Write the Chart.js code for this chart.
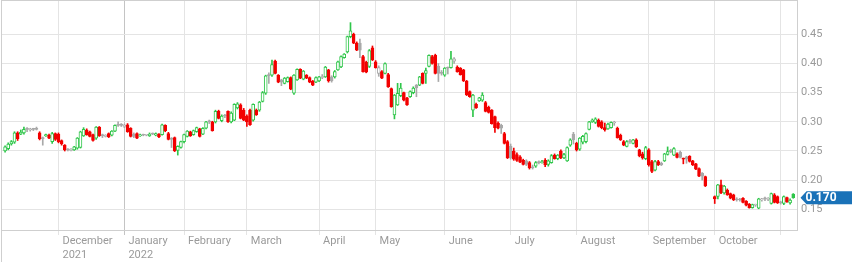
<!DOCTYPE html>
<html>
<head>
<meta charset="utf-8">
<script src="https://cdn.jsdelivr.net/npm/chart.js@4.4.1/dist/chart.umd.min.js"></script>
<style>
html,body{margin:0;padding:0;background:#fff;}
#wrap{width:852px;height:262px;}
</style>
</head>
<body>
<div id="wrap"><canvas id="mychart" width="852" height="262"></canvas></div>
<script>
// one candle per trading day, 8 Nov 2021 .. 7 Nov 2022 (null = no trading)
var open=[
  .250,.254,.262,.265,.281,.279,.281,.288,.286,.288,.289,.281,.273,.276,.277,.266,.280,
  .279,.268,.260,.253,.251,.252,.255,.256,.276,.286,.283,.278,.272,.291,.278,.275,.280,.277,.284,.295,.296,
  .292,.295,.289,.279,.280,.276,.278,.277,.276,.280,.277,.279,.278,.294,.280,.272,.273,.251,.256,
  .266,.275,.283,.278,.283,.288,.279,.289,.301,.300,.300,.318,.302,.311,.318,.300,.303,.324,.329,.320,
  .310,.320,.303,.320,.320,.335,.349,.381,.380,.404,.380,.372,.366,.369,.376,.349,.372,.390,.373,.380,.376,.370,.368,
  .370,.376,.377,.389,.377,.377,.389,.394,.410,.420,.446,.450,.435,.435,.412,.402,.395,.427,
  .403,.383,.386,.383,.381,.357,.312,.329,.345,.350,.341,.343,.350,.363,.363,.383,.383,.395,.412,.414,.395,.385,
  .380,.393,.393,.404,.394,.392,.389,.370,.352,.320,.330,.336,.337,.333,.325,.320,.309,.298,.294,.280,.266,
  .258,.250,.244,.240,.234,.233,.230,.223,.224,.231,.230,.234,.227,.230,.243,.237,.250,.238,.233,.260,.279,
  .263,.253,.265,.266,.287,.300,.299,.303,.300,.290,.288,.290,.298,.289,.277,.266,.258,.268,.263,.269,.252,.245,.237,
  .252,.232,.217,.232,.229,.233,.244,.251,.243,.245,.248,.237,.240,.241,.233,.228,.220,.212,.206,null,null,
  .172,.172,.192,.178,.183,.177,.175,.168,.167,.169,.164,.159,.153,.157,.152,.166,.169,.167,.160,.175,.172,
  .162,.160,.170,.161,.176
];
var high=[
  .259,.264,.268,.283,.283,.286,.291,.290,.289,.289,.291,.283,.274,.279,.279,.282,.281,
  .281,.269,.261,.254,.254,.258,.273,.284,.290,.288,.284,.279,.292,.292,.279,.278,.281,.285,.295,.300,.297,
  .296,.297,.290,.281,.281,.279,.279,.278,.281,.281,.281,.280,.296,.295,.282,.273,.274,.259,.267,
  .279,.285,.284,.286,.291,.289,.290,.301,.303,.301,.320,.320,.312,.313,.319,.317,.331,.333,.331,.323,
  .312,.322,.331,.322,.335,.352,.380,.384,.406,.406,.381,.373,.376,.377,.377,.381,.391,.391,.388,.381,.377,.371,.377,
  .378,.381,.395,.390,.379,.388,.404,.413,.417,.447,.470,.452,.437,.442,.414,.404,.424,.430,
  .405,.396,.388,.401,.383,.358,.347,.366,.366,.351,.342,.353,.360,.364,.378,.384,.392,.415,.414,.416,.400,.388,
  .393,.394,.421,.410,.396,.393,.390,.371,.353,.347,.332,.342,.350,.335,.327,.321,.310,.300,.296,.282,.268,
  .262,.255,.247,.242,.236,.235,.232,.226,.232,.233,.234,.237,.235,.244,.245,.244,.252,.246,.257,.271,.282,
  .265,.273,.277,.281,.301,.305,.307,.305,.302,.298,.298,.300,.301,.291,.279,.268,.268,.270,.270,.271,.253,.248,.258,
  .254,.234,.234,.234,.231,.246,.257,.253,.256,.247,.250,.238,.241,.242,.234,.229,.221,.213,.207,null,null,
  .173,.193,.200,.191,.185,.178,.176,.170,.169,.170,.165,.160,.159,.159,.169,.169,.171,.170,.178,.177,.173,
  .164,.173,.171,.168,.177
];
var low=[
  .248,.252,.260,.263,.268,.278,.279,.283,.284,.285,.286,.269,.260,.275,.271,.263,.268,
  .264,.260,.250,.250,.250,.251,.253,.255,.275,.277,.274,.267,.270,.275,.273,.274,.273,.276,.283,.292,.292,
  .290,.282,.274,.273,.271,.275,.276,.276,.275,.278,.276,.273,.277,.283,.269,.256,.249,.243,.255,
  .264,.274,.275,.277,.282,.274,.278,.288,.297,.284,.298,.305,.300,.307,.299,.298,.302,.322,.305,.302,
  .292,.294,.301,.311,.318,.334,.347,.366,.378,.382,.367,.362,.365,.368,.355,.347,.371,.374,.372,.374,.367,.362,.367,
  .369,.374,.376,.368,.368,.375,.388,.393,.409,.418,.444,.434,.422,.410,.385,.384,.393,.405,
  .392,.378,.374,.382,.359,.325,.305,.328,.343,.336,.328,.342,.348,.343,.362,.365,.366,.394,.399,.382,.369,.380,
  .378,.382,.392,.400,.385,.380,.369,.345,.342,.309,.323,.335,.335,.317,.315,.296,.282,.288,.280,.262,.237,
  .236,.234,.232,.230,.226,.225,.219,.219,.222,.228,.229,.223,.224,.229,.236,.235,.237,.237,.232,.258,.262,
  .250,.251,.262,.264,.286,.299,.297,.291,.288,.284,.287,.289,.294,.272,.268,.259,.257,.263,.262,.256,.240,.236,.235,
  .224,.213,.216,.225,.225,.232,.243,.247,.242,.238,.238,.228,.229,.231,.225,.218,.206,.200,.189,null,null,
  .160,.168,.177,.176,.174,.168,.165,.164,.164,.161,.156,.152,.152,.155,.151,.164,.165,.165,.159,.161,.160,
  .159,.158,.162,.159,.169
];
var close=[
  .257,.262,.266,.281,.271,.282,.287,.287,.287,.287,.287,.271,.271,.278,.272,.280,.270,
  .266,.262,.252,.252,.252,.257,.272,.283,.287,.278,.275,.268,.291,.276,.276,.276,.274,.284,.294,.294,.294,
  .294,.283,.275,.275,.272,.277,.277,.277,.279,.279,.280,.274,.295,.285,.270,.270,.250,.258,.266,
  .278,.284,.276,.285,.290,.275,.289,.300,.300,.285,.318,.306,.310,.310,.300,.315,.330,.331,.306,.303,
  .300,.295,.330,.312,.334,.350,.379,.379,.398,.383,.368,.368,.375,.376,.356,.380,.390,.375,.387,.375,.368,.363,.376,
  .377,.377,.394,.370,.370,.386,.403,.412,.416,.446,.456,.435,.423,.423,.386,.385,.422,.406,
  .393,.393,.375,.400,.360,.326,.346,.349,.358,.337,.329,.352,.358,.358,.377,.366,.388,.414,.400,.383,.383,.383,
  .392,.392,.408,.408,.386,.381,.370,.346,.343,.346,.324,.341,.346,.318,.316,.297,.290,.289,.289,.263,.238,
  .238,.236,.234,.231,.227,.227,.221,.221,.230,.230,.232,.226,.233,.242,.237,.243,.238,.244,.256,.269,.269,
  .252,.272,.275,.280,.300,.303,.305,.292,.290,.286,.296,.299,.299,.273,.269,.260,.266,.266,.269,.257,.242,.238,.256,
  .226,.215,.232,.226,.226,.245,.249,.249,.254,.239,.239,.236,.236,.232,.226,.219,.207,.207,.190,null,null,
  .168,.192,.178,.190,.175,.169,.166,.166,.166,.162,.157,.153,.158,.158,.168,.168,.168,.168,.177,.162,.161,
  .161,.172,.163,.166,.170
];

// x ticks: first trading day of each month
var monthStart=[17,38,57,77,100,118,140,161,182,205,226,247];
var monthName=["December","January","February","March","April","May","June","July","August","September","October",""];
var monthYear=["2021","2022","","","","","","","","","",""];
var yTicks=[0.15,0.20,0.25,0.30,0.35,0.40,0.45];

var UP="#2fc64a", DOWN="#f20000", FLAT="#a9a9a9";

var bodies=[], wicks=[], colors=[], fills=[];
var prev=null, last=null;
for(var i=0;i<close.length;i++){
    if(close[i]==null) continue;
    var ref = prev==null ? open[i] : prev;
    var col = close[i]>ref ? UP : (close[i]<ref ? DOWN : FLAT);
    bodies.push({x:i, y:[Math.min(open[i],close[i]), Math.max(open[i],close[i])]});
    wicks.push({x:i, y:[low[i],high[i]]});
    colors.push(col);
    fills.push(close[i]>=open[i] ? "#ffffff" : col);
    prev=close[i];
    last=close[i];
}

Chart.defaults.font.family="Roboto, sans-serif";

var framePlugin={
    id:"frame",
    afterDraw:function(chart){
        var c=chart.ctx, a=chart.chartArea;
        c.save();
        c.strokeStyle="#cfcfcf";
        c.lineWidth=1;
        c.beginPath();
        c.moveTo(a.left, a.top+0.5); c.lineTo(a.right, a.top+0.5);
        c.moveTo(a.left+0.5, a.top); c.lineTo(a.left+0.5, chart.height);
        c.stroke();
        c.restore();
    }
};

var priceTag={
    id:"priceTag",
    afterDraw:function(chart){
        var c=chart.ctx, a=chart.chartArea;
        var y=chart.scales.y.getPixelForValue(last);
        var x0=a.right+3.5;
        c.save();
        c.fillStyle="#1a72b8";
        c.beginPath();
        c.moveTo(x0, y);
        c.lineTo(x0+6, y-6.5);
        c.lineTo(chart.width, y-6.5);
        c.lineTo(chart.width, y+6.5);
        c.lineTo(x0+6, y+6.5);
        c.closePath();
        c.fill();
        c.fillStyle="#ffffff";
        c.font="bold 12px Roboto, sans-serif";
        c.textAlign="left";
        c.textBaseline="middle";
        c.fillText(last.toFixed(3), x0+5, y+0.5);
        c.restore();
    }
};

var mychart=document.getElementById("mychart").getContext("2d");
var chart=new Chart(mychart,{
    type:"bar",
    data:{
        datasets:[{
            data:bodies,
            backgroundColor:fills,
            borderColor:colors,
            borderWidth:1,
            borderSkipped:false,
            barThickness:3,
            minBarLength:1,
            grouped:false,
            order:0
        },{
            data:wicks,
            backgroundColor:colors,
            borderWidth:0,
            barThickness:1,
            grouped:false,
            order:1
        }]
    },
    options:{
        responsive:false,
        animation:false,
        events:[],
        layout:{padding:{left:1,top:0,right:0,bottom:0}},
        plugins:{legend:{display:false},tooltip:{enabled:false}},
        scales:{
            x:{
                type:"linear",
                min:-1.3,
                max:252.2,
                offset:false,
                afterBuildTicks:function(s){
                    s.ticks=monthStart.map(function(v){return {value:v};});
                },
                afterFit:function(s){
                    s.height=32; s.paddingLeft=0; s.paddingRight=0;
                },
                grid:{
                    offset:false,
                    color:function(ctx){
                        var k=ctx.tick ? monthStart.indexOf(ctx.tick.value) : -1;
                        return monthName[k]==="January" ? "#c4c4c4" : "#e4e4e4";
                    },
                    tickLength:5
                },
                border:{color:"#cfcfcf"},
                ticks:{
                    autoSkip:false,
                    maxRotation:0,
                    minRotation:0,
                    align:"start",
                    labelOffset:4,
                    padding:0,
                    color:"#9a9a9a",
                    font:{size:11},
                    callback:function(v){
                        var k=monthStart.indexOf(v);
                        if(k<0) return "";
                        return monthYear[k] ? [monthName[k],monthYear[k]] : monthName[k];
                    }
                }
            },
            y:{
                position:"right",
                min:0.1146,
                max:0.5088,
                afterBuildTicks:function(s){
                    s.ticks=yTicks.map(function(v){return {value:v};});
                },
                afterFit:function(s){
                    s.width=55; s.paddingTop=0; s.paddingBottom=0;
                },
                grid:{color:"#e4e4e4", drawTicks:false},
                border:{color:"#cfcfcf"},
                ticks:{
                    padding:4,
                    color:"#9a9a9a",
                    font:{size:11},
                    callback:function(v){return v.toFixed(2);}
                }
            }
        }
    },
    plugins:[framePlugin,priceTag]
});
</script>
</body>
</html>
